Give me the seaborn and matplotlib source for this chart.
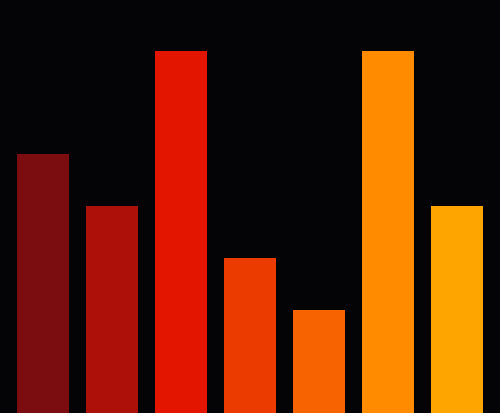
import matplotlib
matplotlib.use("Agg")
import matplotlib.pyplot as plt
import seaborn as sns
import pandas as pd

# bar data
categories = ["A", "B", "C", "D", "E", "F", "G"]
values = [5, 4, 7, 3, 2, 7, 4]
bar_colors = ["#7b0d10", "#ad1008", "#e41500", "#ec3b00", "#f76300", "#ff8c00", "#ffa500"]

bg = "#040406"

df = pd.DataFrame({"cat": categories, "val": values})

fig = plt.figure(figsize=(5.0, 4.14), dpi=100, facecolor=bg)
ax = fig.add_axes([0, 0, 1, 1])
ax.set_facecolor(bg)

sns.barplot(data=df, x="cat", y="val", hue="cat", palette=bar_colors,
            width=0.754, legend=False, saturation=1, ax=ax)

ax.set_xlim(-0.623, len(categories) - 1 + 0.623)
ax.set_ylim(0, 8)
ax.axis("off")

fig.savefig("out.png", dpi=100, facecolor=bg)
